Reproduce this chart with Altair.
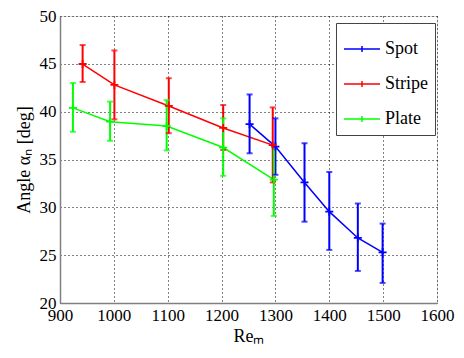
import altair as alt
import pandas as pd

series = ["Spot", "Stripe", "Plate"]
colors = ["#0000ff", "#ff0000", "#00ff00"]

spot_x = [1252, 1300, 1354, 1400, 1453, 1499]
spot_y = [38.7, 36.35, 32.6, 29.55, 26.8, 25.3]
spot_lo = [35.65, 33.4, 28.5, 25.55, 23.35, 22.1]
spot_hi = [41.8, 39.3, 36.7, 33.7, 30.4, 28.3]

stripe_x = [942, 1001, 1102, 1203, 1295]
stripe_y = [44.98, 42.8, 40.6, 38.3, 36.5]
stripe_lo = [43.1, 39.2, 37.75, 36.0, 32.6]
stripe_hi = [46.97, 46.4, 43.5, 40.7, 40.45]

plate_x = [924, 993, 1098, 1203, 1297]
plate_y = [40.4, 38.95, 38.5, 36.25, 32.9]
plate_lo = [37.9, 36.95, 35.95, 33.3, 29.1]
plate_hi = [43.0, 41.05, 41.2, 39.3, 36.4]

x_ticks = [900, 1000, 1100, 1200, 1300, 1400, 1500, 1600]
y_ticks = [20, 25, 30, 35, 40, 45, 50]

rows = []
for name, xs_, ys_, los, his in [
    ("Spot", spot_x, spot_y, spot_lo, spot_hi),
    ("Stripe", stripe_x, stripe_y, stripe_lo, stripe_hi),
    ("Plate", plate_x, plate_y, plate_lo, plate_hi),
]:
    for i, (xv, yv, lo, hi) in enumerate(zip(xs_, ys_, los, his)):
        rows.append({"series": name, "x": xv, "y": yv, "lo": lo, "hi": hi,
                     "order": series.index(name) * 10 + i})
df = pd.DataFrame(rows)

FONT = "'Liberation Serif', 'Times New Roman', serif"

color_scale = alt.Scale(domain=series, range=colors)
xs = alt.Scale(domain=[900, 1600], nice=False)
ys = alt.Scale(domain=[20, 50], nice=False)

common = dict(grid=True, gridDash=[1, 3], gridColor="#000000", gridOpacity=1,
              gridWidth=1, domainColor="#808080", domainWidth=1.5, ticks=False,
              labelFont=FONT, labelFontSize=17, labelColor="#000000",
              labelPadding=4, labelFlush=False, labelOverlap=False,
              titleFont=FONT, titleFontSize=18, titleFontWeight="normal",
              titleColor="#000000")

x_axis = alt.Axis(values=x_ticks, format="d", title="Reₘ", titlePadding=4, **common)
y_axis = alt.Axis(values=y_ticks, format="d", title="Angle  αₙ [deg]", titlePadding=6, **common)

base = alt.Chart(df)

lines = base.mark_line(strokeWidth=1.5).encode(
    x=alt.X("x:Q", scale=xs, axis=x_axis),
    y=alt.Y("y:Q", scale=ys, axis=y_axis),
    color=alt.Color("series:N", scale=color_scale, sort=series,
                    legend=alt.Legend(title=None, orient="none", legendX=276, legendY=7,
                                      symbolType="M-1,0H1M0,-0.17V0.17", symbolSize=1296,
                                      symbolStrokeWidth=1.5, labelFont=FONT,
                                      labelFontSize=18, labelColor="#000000",
                                      labelOffset=4, rowPadding=7, padding=7,
                                      strokeColor="#444444", fillColor="#ffffff",
                                      cornerRadius=0)),
    detail="series:N",
    order="order:Q",
)

bars = base.mark_rule(strokeWidth=2).encode(
    x="x:Q", y="lo:Q", y2="hi:Q",
    color=alt.Color("series:N", scale=color_scale, legend=None),
)
cap_lo = base.mark_tick(orient="horizontal", size=6, thickness=2).encode(
    x="x:Q", y="lo:Q", color=alt.Color("series:N", scale=color_scale, legend=None),
)
cap_hi = base.mark_tick(orient="horizontal", size=6, thickness=2).encode(
    x="x:Q", y="hi:Q", color=alt.Color("series:N", scale=color_scale, legend=None),
)
marks = base.mark_point(shape="M-1,0H1M0,-1V1", size=64, strokeWidth=1.8,
                        filled=False, opacity=1).encode(
    x="x:Q", y="y:Q", color=alt.Color("series:N", scale=color_scale, legend=None),
)

chart = alt.layer(lines, bars, cap_lo, cap_hi, marks).properties(
    width=377, height=287,
    autosize=alt.AutoSizeParams(type="none"),
    padding={"left": 52, "top": 8, "right": 19, "bottom": 47},
).configure_view(stroke=None).configure(background="#ffffff", font=FONT)

chart.save("out.html", embed_options={"renderer": "svg", "actions": False})
